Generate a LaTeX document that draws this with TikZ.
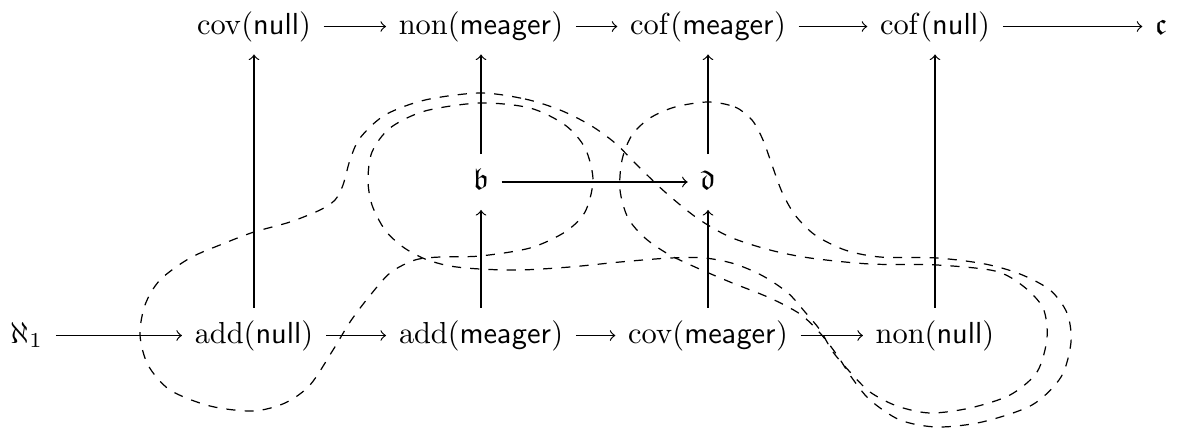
\documentclass[tikz,border=0pt]{standalone}
\usepackage{amssymb}
\begin{document}
\begin{tikzpicture}[x=0.329pt,y=-0.329pt,
  cell/.style={inner sep=4pt,text height=7.5pt,text depth=2.5pt},
  arr/.style={->},
  sepline/.style={dashed}]
\useasboundingbox (0,0) rectangle (1180,430);
% top row
\node[cell] (covN) at (254,26.5) {$\mathrm{cov}(\mathsf{null})$};
\node[cell] (nonM) at (481,26.5) {$\mathrm{non}(\mathsf{meager})$};
\node[cell] (cofM) at (708,26.5) {$\mathrm{cof}(\mathsf{meager})$};
\node[cell] (cofN) at (935,26.5) {$\mathrm{cof}(\mathsf{null})$};
\node[cell] (c) at (1161,26.5) {$\mathfrak{c}$};
% middle row
\node[cell] (b) at (481,182) {$\mathfrak{b}$};
\node[cell] (d) at (708,182) {$\mathfrak{d}$};
% bottom row
\node[cell] (a1) at (27,335.5) {$\aleph_1$};
\node[cell] (addN) at (254,335.5) {$\mathrm{add}(\mathsf{null})$};
\node[cell] (addM) at (481,335.5) {$\mathrm{add}(\mathsf{meager})$};
\node[cell] (covM) at (708,335.5) {$\mathrm{cov}(\mathsf{meager})$};
\node[cell] (nonN) at (935,335.5) {$\mathrm{non}(\mathsf{null})$};
% arrows
\draw[arr] (covN) -- (nonM);
\draw[arr] (nonM) -- (cofM);
\draw[arr] (cofM) -- (cofN);
\draw[arr] (cofN) -- (c);
\draw[arr] (a1) -- (addN);
\draw[arr] (addN) -- (addM);
\draw[arr] (addM) -- (covM);
\draw[arr] (covM) -- (nonN);
\draw[arr] (addN) -- (covN);
\draw[arr] (addM) -- (b);
\draw[arr] (b) -- (nonM);
\draw[arr] (covM) -- (d);
\draw[arr] (d) -- (cofM);
\draw[arr] (nonN) -- (cofN);
\draw[arr] (b) -- (d);
% dashed curve around d and outer loop around non(null)
\draw[sepline] plot[smooth cycle] coordinates {
 (708,102) (735,107) (752,120) (763,140) (772,165) (782,192) (795,215)
 (815,235) (845,250) (880,257) (937,258) (985,264) (1020,274) (1050,290)
 (1067,313) (1071,342) (1061,377) (1032,405) (982,422) (937,427) (900,420)
 (870,400) (852,378) (837,355) (820,333) (800,314) (770,298) (730,282)
 (695,267) (668,254) (645,238) (628,218) (620,190) (622,160) (632,135)
 (650,118) (675,107)};
% big curve
\draw[sepline] plot[smooth cycle] coordinates {
 (480,93) (525,99) (560,110) (590,125) (615,143) (640,168) (665,192)
 (697,218) (730,237) (770,250) (810,258) (870,264) (937,265) (995,271)
 (1023,286) (1043,308) (1047,338) (1037,372) (1010,395) (970,408)
 (930,413) (897,406) (870,392) (850,372) (833,352) (820,330) (805,312)
 (788,293) (763,276) (735,264) (705,258) (670,258) (620,262) (570,267)
 (520,270) (480,269) (450,266) (425,259) (403,247) (385,230) (372,205)
 (368,180) (372,152) (390,128) (425,111) (480,103) (530,108) (565,125)
 (585,148) (593,180) (585,212) (565,232) (530,248) (480,256) (440,257)
 (415,260) (390,273) (368,298) (350,322) (333,350) (310,385) (285,403)
 (253,411) (210,406) (170,390) (148,365) (140,335) (145,305) (160,280)
 (190,258) (225,243) (254,232) (290,222) (320,210) (335,200) (343,185)
 (350,160) (360,138) (385,115) (425,100)};
\end{tikzpicture}
\end{document}
